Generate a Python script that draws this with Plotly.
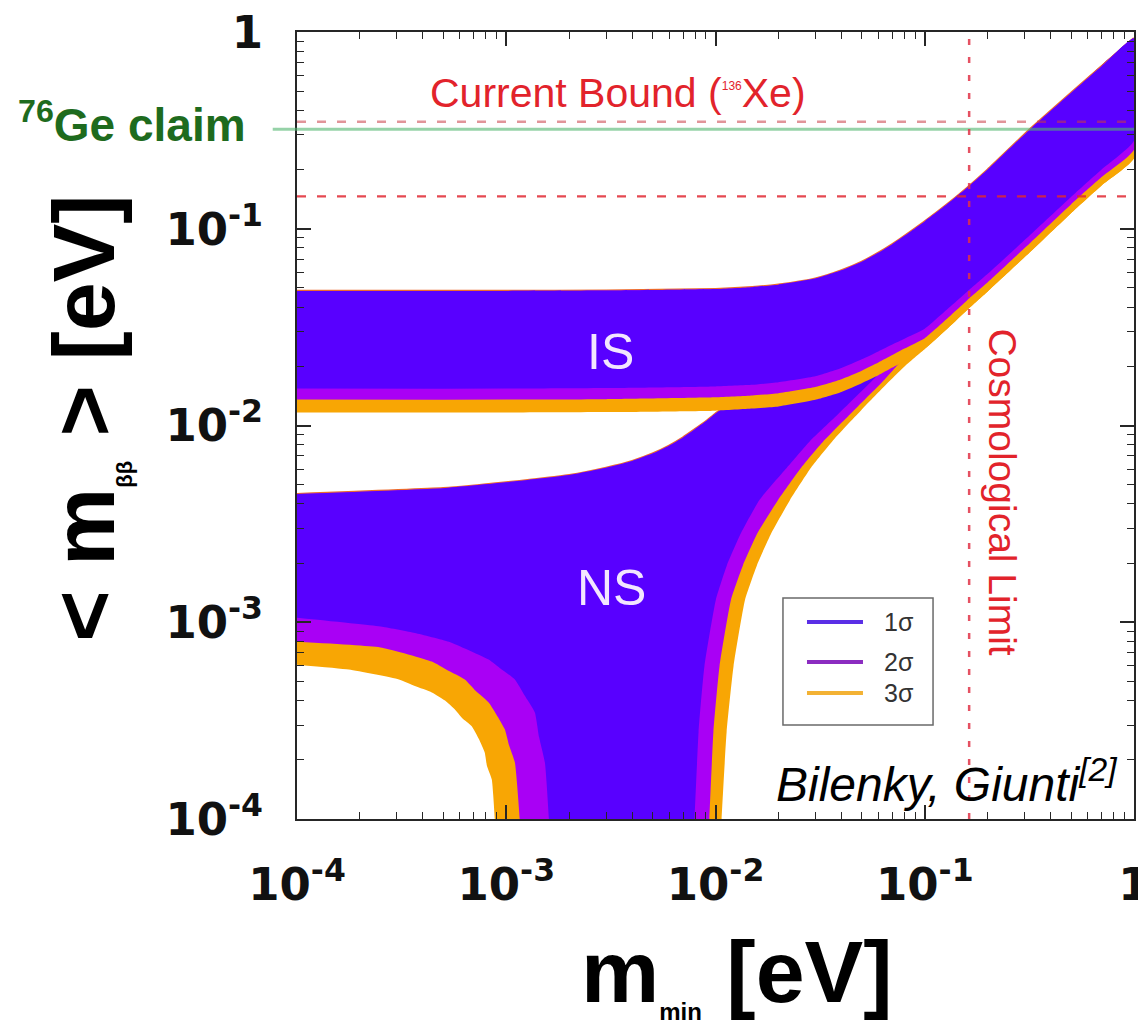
import plotly.graph_objects as go

# ---------------- data (eV) ----------------
# Inverted spectrum (IS): common upper edge, lower edge per confidence level
IS_X = [1e-4, 1e-3, 3e-3, 0.01, 0.015, 0.02, 0.03, 0.04, 0.05, 0.06, 0.07, 0.08,
        0.1, 0.13, 0.16, 0.2, 0.316, 0.5, 0.7, 1.0]
IS_UP_Y = [0.0483, 0.0483, 0.0485, 0.0494, 0.0505, 0.052, 0.0558, 0.0615, 0.068, 0.0755, 0.0835, 0.092,
           0.109, 0.135, 0.162, 0.2, 0.318, 0.49, 0.67, 0.93]
IS_LO1_Y = [0.0154, 0.0154, 0.0155, 0.0158, 0.0161, 0.0166, 0.0178, 0.0196, 0.0217, 0.0238, 0.0258, 0.0276,
            0.031, 0.0395, 0.048, 0.059, 0.092, 0.145, 0.2, 0.28]
IS_LO2_Y = [0.01354, 0.01354, 0.0136, 0.0139, 0.0142, 0.0146, 0.0157, 0.0172, 0.019, 0.0209, 0.0228, 0.0246,
            0.0278, 0.0355, 0.0435, 0.0535, 0.084, 0.133, 0.183, 0.252]
IS_LO3_Y = [0.01164, 0.01164, 0.0117, 0.0119, 0.0122, 0.0125, 0.0135, 0.0148, 0.0164, 0.018, 0.0197, 0.0213,
            0.0245, 0.0315, 0.0388, 0.048, 0.0755, 0.12, 0.166, 0.228]

# Normal spectrum (NS): common upper edge
NS_UP_X = [1e-4, 5e-4, 1e-3, 2e-3, 3e-3, 4e-3, 5e-3, 6e-3, 7e-3, 8e-3, 9e-3, 0.01, 0.012, 0.015,
           0.02, 0.05, 0.1, 0.3, 1.0]
NS_UP_Y = [0.00448, 0.0048, 0.00514, 0.0056, 0.0061, 0.0066, 0.0072, 0.0079, 0.0087, 0.0096, 0.0105, 0.0115,
           0.0133, 0.0162, 0.0212, 0.05, 0.098, 0.29, 0.9]

# NS lower edge, left branch (from m_min = 1e-4 down past the bottom of the frame)
NS_LL1_X = [1e-4, 2.55e-4, 3.66e-4, 5.32e-4, 8.24e-4, 9.44e-4, 1.10e-3, 1.22e-3, 1.37e-3, 1.435e-3, 1.53e-3, 1.60e-3, 1.62e-3]
NS_LL1_Y = [1.054e-3, 9.49e-4, 8.82e-4, 7.96e-4, 6.46e-4, 5.78e-4, 5.12e-4, 4.27e-4, 3.48e-4, 2.61e-4, 1.94e-4, 1e-4, 8e-5]
NS_LL2_X = [1e-4, 2.55e-4, 4.41e-4, 5.21e-4, 6.34e-4, 7.16e-4, 8.24e-4, 9.84e-4, 1.03e-3, 1.10e-3, 1.16e-3, 1.17e-3]
NS_LL2_Y = [7.96e-4, 7.43e-4, 6.31e-4, 5.72e-4, 5.12e-4, 4.47e-4, 3.91e-4, 2.86e-4, 2.38e-4, 1.94e-4, 1e-4, 8e-5]
NS_LL3_X = [1e-4, 1.77e-4, 3.07e-4, 3.66e-4, 4.41e-4, 5.1e-4, 5.67e-4, 6.15e-4, 6.84e-4, 7.4e-4, 7.89e-4, 8.09e-4,
            8.53e-4, 8.82e-4, 8.9e-4]
NS_LL3_Y = [6.09e-4, 5.75e-4, 5.12e-4, 4.74e-4, 4.40e-4, 4.0e-4, 3.61e-4, 3.26e-4, 2.96e-4, 2.55e-4, 2.18e-4, 1.86e-4,
            1.59e-4, 1e-4, 8e-5]

# NS lower edge, right branch (from below the frame up to m_min = 1)
NS_LR1_X = [7.85e-3, 7.94e-3, 8.3e-3, 8.85e-3, 0.01004, 0.01134, 0.01324, 0.01622, 0.02202, 0.0283, 0.0386, 0.055,
            0.0773, 0.1, 0.13, 0.16, 0.2, 0.316, 0.5, 0.7, 1.0]
NS_LR1_Y = [8e-5, 1e-4, 2.76e-4, 5.95e-4, 1.30e-3, 1.95e-3, 2.84e-3, 4.18e-3, 6.13e-3, 8.34e-3, 0.01144, 0.01654,
            0.024, 0.031, 0.0395, 0.048, 0.059, 0.092, 0.145, 0.2, 0.28]
NS_LR2_X = [9.28e-3, 9.35e-3, 9.77e-3, 0.01045, 0.01186, 0.01353, 0.01588, 0.0199, 0.02576, 0.0327, 0.04457, 0.0633,
            0.0773, 0.1, 0.13, 0.16, 0.2, 0.316, 0.5, 0.7, 1.0]
NS_LR2_Y = [8e-5, 1e-4, 2.76e-4, 5.95e-4, 1.30e-3, 1.95e-3, 2.84e-3, 4.18e-3, 6.13e-3, 8.29e-3, 0.01158, 0.01684,
            0.0213, 0.0278, 0.0355, 0.0435, 0.0535, 0.084, 0.133, 0.183, 0.252]
NS_LR3_X = [0.01062, 0.0107, 0.0113, 0.01219, 0.01384, 0.01578, 0.01849, 0.0227, 0.0287, 0.0373, 0.0498, 0.0619,
            0.08, 0.1, 0.13, 0.16, 0.2, 0.316, 0.5, 0.7, 1.0]
NS_LR3_Y = [8e-5, 1e-4, 2.76e-4, 5.95e-4, 1.30e-3, 1.95e-3, 2.84e-3, 4.18e-3, 6.13e-3, 8.64e-3, 0.0120, 0.01524,
            0.01995, 0.0245, 0.0315, 0.0388, 0.048, 0.0755, 0.12, 0.166, 0.228]

# reference lines (eV)
GE_CLAIM = 0.32
XE_BOUNDS = [0.35, 0.146]
COSMO_LIMIT = 0.163

TICK_VALS = [1e-4, 1e-3, 1e-2, 1e-1, 1.0]
TICK_TEXT = ["10<sup>-4</sup>", "10<sup>-3</sup>", "10<sup>-2</sup>", "10<sup>-1</sup>", "1"]
MINOR_VALS = [k * 10.0 ** e for e in range(-4, 0) for k in range(2, 10)]

LEGEND_LABELS = ["1σ", "2σ", "3σ"]
LEGEND_COLORS = ["#5a2ee6", "#8b2cc0", "#f3b234"]

# ---------------- styling ----------------
FILL = {1: "#5800ff", 2: "#a900f5", 3: "#f8a604"}
RIM = "#ec6a2c"


def is_poly(lo_y):
    return IS_X + IS_X[::-1], IS_UP_Y + lo_y[::-1]


def ns_poly(ll_x, ll_y, lr_x, lr_y):
    xs = NS_UP_X + lr_x[::-1] + ll_x[::-1]
    ys = NS_UP_Y + lr_y[::-1] + ll_y[::-1]
    return xs, ys


def fill_trace(xs, ys, color):
    return go.Scatter(x=xs, y=ys, mode="lines", fill="toself", fillcolor=color,
                      line=dict(color=color, width=0, shape="spline", smoothing=0.45),
                      hoverinfo="skip", showlegend=False)


def rim_trace(xs, ys):
    return go.Scatter(x=xs, y=ys, mode="lines",
                      line=dict(color=RIM, width=2.2, shape="spline", smoothing=0.45),
                      hoverinfo="skip", showlegend=False)


fig = go.Figure()

ns_sets = {3: (NS_LL3_X, NS_LL3_Y, NS_LR3_X, NS_LR3_Y),
           2: (NS_LL2_X, NS_LL2_Y, NS_LR2_X, NS_LR2_Y),
           1: (NS_LL1_X, NS_LL1_Y, NS_LR1_X, NS_LR1_Y)}
fig.add_trace(rim_trace(NS_UP_X, NS_UP_Y))
for s in (3, 2, 1):
    fig.add_trace(fill_trace(*ns_poly(*ns_sets[s]), FILL[s]))

is_sets = {3: IS_LO3_Y, 2: IS_LO2_Y, 1: IS_LO1_Y}
fig.add_trace(rim_trace(IS_X, IS_UP_Y))
for s in (3, 2, 1):
    fig.add_trace(fill_trace(*is_poly(is_sets[s]), FILL[s]))

shapes = [
    # 76Ge claim line (starts slightly left of the frame)
    dict(type="line", xref="paper", x0=-0.029, x1=1.0, yref="y", y0=GE_CLAIM, y1=GE_CLAIM,
         line=dict(color="rgba(80,180,110,0.6)", width=3)),
    # current bound lines
    dict(type="line", xref="x", x0=1e-4, x1=1.0, yref="y", y0=XE_BOUNDS[0], y1=XE_BOUNDS[0],
         line=dict(color="rgba(200,60,70,0.55)", width=2.5, dash="9px,11px")),
    dict(type="line", xref="x", x0=1e-4, x1=1.0, yref="y", y0=XE_BOUNDS[1], y1=XE_BOUNDS[1],
         line=dict(color="rgba(225,40,50,0.85)", width=2.2, dash="9px,11px")),
    # cosmological limit
    dict(type="line", xref="x", x0=COSMO_LIMIT, x1=COSMO_LIMIT, yref="y", y0=1e-4, y1=1.0,
         line=dict(color="rgba(225,50,70,0.85)", width=2.5, dash="6px,12px")),
    # legend box
    dict(type="rect", xref="paper", yref="paper", x0=0.5806, x1=0.7599, y0=0.1194, y1=0.2808,
         line=dict(color="#6a6a6a", width=1.5), fillcolor="white"),
]

annotations = []
leg_y = [0.2503, 0.1995, 0.1601]
for lbl, col, yy in zip(LEGEND_LABELS, LEGEND_COLORS, leg_y):
    shapes.append(dict(type="line", xref="paper", yref="paper", x0=0.6093, x1=0.6762, y0=yy, y1=yy,
                       line=dict(color=col, width=4)))
    annotations.append(dict(xref="paper", yref="paper", x=0.699, y=yy, text=lbl, showarrow=False,
                            xanchor="left", yanchor="middle",
                            font=dict(family="Liberation Sans", size=25, color="#333333")))

annotations += [
    dict(xref="x", yref="y", x=-2.5, y=-1.625, text="IS", showarrow=False,
         xanchor="center", yanchor="middle",
         font=dict(family="Liberation Sans", size=50, color="#f3e6ff")),
    dict(xref="x", yref="y", x=-2.495, y=-2.826, text="NS", showarrow=False,
         xanchor="center", yanchor="middle",
         font=dict(family="Liberation Sans", size=50, color="#f3e6ff")),
    dict(xref="paper", yref="paper", x=0.3835, y=0.9225, showarrow=False,
         xanchor="center", yanchor="middle",
         text="Current Bound (<sup><span style='font-size:12px'>136</span></sup>Xe)",
         font=dict(family="Liberation Sans", size=41, color="#e2232b")),
    dict(xref="paper", yref="paper", x=0.843, y=0.4155, showarrow=False, textangle=90,
         xanchor="center", yanchor="middle",
         text="Cosmological Limit",
         font=dict(family="Liberation Sans", size=39, color="#e2232b")),
    dict(xref="paper", yref="paper", x=0.776, y=0.048, showarrow=False,
         xanchor="center", yanchor="middle",
         text="<i>Bilenky, Giunti</i><i><sup>[2]</sup></i>",
         font=dict(family="Liberation Sans", size=48, color="#000000")),
    dict(xref="paper", yref="paper", x=-0.058, y=0.886, showarrow=False,
         xanchor="right", yanchor="middle",
         text="<b><sup>76</sup>Ge claim</b>",
         font=dict(family="Liberation Sans", size=46, color="#1e6b1e")),
    # axis titles
    dict(xref="paper", yref="paper", x=0.5257, y=-0.196, showarrow=False,
         xanchor="center", yanchor="middle",
         text="m<sub><span style='font-size:24px'>min</span></sub> [eV]",
         font=dict(family="Liberation Sans", size=88, color="#000000", weight="bold")),
    dict(xref="paper", yref="paper", x=-0.2535, y=0.5095, showarrow=False, textangle=-90,
         xanchor="center", yanchor="middle",
         text="&lt; m<sub><span style='font-size:22px'>ββ</span></sub> &gt; [eV]",
         font=dict(family="Liberation Sans", size=88, color="#000000", weight="bold")),
]

axis_common = dict(
    type="log", showgrid=False, zeroline=False, automargin=False,
    showline=True, linecolor="#262626", linewidth=2, mirror="ticks",
    ticks="inside", ticklen=14, tickwidth=1.5, tickcolor="#262626",
    tickvals=TICK_VALS, ticktext=TICK_TEXT, ticklabeloverflow="allow",
    tickfont=dict(family="DejaVu Sans", size=45, color="#111111", weight="bold"),
    minor=dict(ticks="inside", ticklen=7, tickwidth=1.2, tickcolor="#262626", tickvals=MINOR_VALS),
)

# the page adds an 8px body margin, so the figure is 8px smaller than the window
fig.update_layout(
    width=1138, height=1016,
    margin=dict(l=289, r=12, t=24, b=205, autoexpand=False),
    paper_bgcolor="white", plot_bgcolor="white",
    xaxis=dict(range=[-4, 0], ticklabelstandoff=25, **axis_common),
    yaxis=dict(range=[-4, 0], ticklabelstandoff=23, **axis_common),
    shapes=shapes, annotations=annotations,
    showlegend=False,
)

fig.write_html("out.html")
